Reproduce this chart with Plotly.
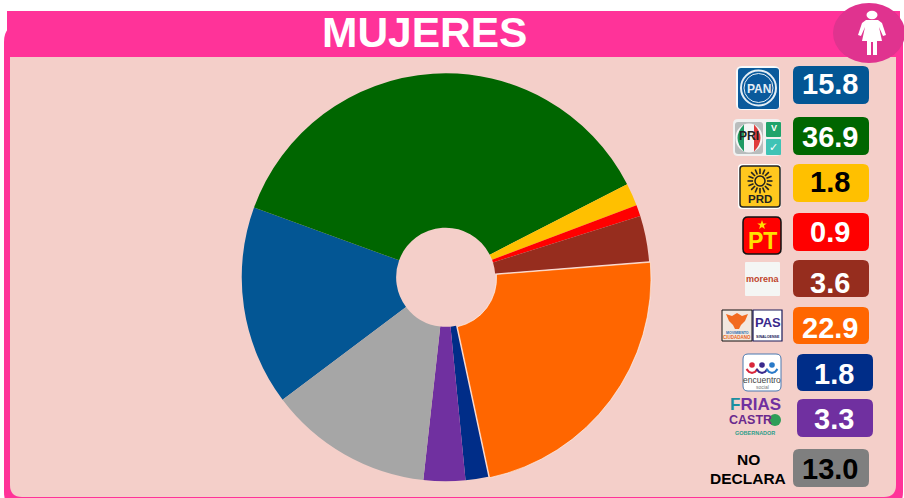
import math
import plotly.graph_objects as go

# ---- data ----
parties = ["PAN", "PRI-PVEM-NA", "PRD", "PT", "MORENA", "MC-PAS", "PES", "FRIAS CASTRO", "NO DECLARA"]
values = [15.8, 36.9, 1.8, 0.9, 3.6, 22.9, 1.8, 3.3, 13.0]
colors = ["#035694", "#006600", "#FFC000", "#FF0000", "#962D1E", "#FF6600", "#002D88", "#7030A0", "#A6A6A6"]
badge_colors = ["#035694", "#006600", "#FFC000", "#FF0000", "#962D1E", "#FF6600", "#002D88", "#7030A0", "#7F7F7F"]
badge_text = ["white", "white", "black", "white", "white", "white", "white", "white", "black"]
title_text = "MUJERES"
pulls = [0, 0, 0, 0, 0, 0.008, 0, 0, 0]

W, H = 904, 498
PINK = "#FF3399"
PANEL = "#F4CFC9"
FONT = "Liberation Sans"
shapes, notes = [], []


def px(x):
    return x / W


def py(y):
    return 1 - y / H


def rrect_path(x0, y0, x1, y1, r):
    X0, X1, Y0, Y1 = px(x0), px(x1), py(y0), py(y1)
    a, b = r / W, r / H
    return (f"M{X0 + a},{Y0} L{X1 - a},{Y0} Q{X1},{Y0} {X1},{Y0 - b} L{X1},{Y1 + b} Q{X1},{Y1} {X1 - a},{Y1} "
            f"L{X0 + a},{Y1} Q{X0},{Y1} {X0},{Y1 + b} L{X0},{Y0 - b} Q{X0},{Y0} {X0 + a},{Y0} Z")


def rrect(x0, y0, x1, y1, r, fill, line=None, lw=1, layer="above"):
    shapes.append(dict(type="path", xref="paper", yref="paper", path=rrect_path(x0, y0, x1, y1, r),
                       fillcolor=fill, line=dict(color=line or fill, width=lw if line else 0), layer=layer))


def circle(cx, cy, rx, ry=None, fill="white", line=None, lw=1, layer="above"):
    ry = ry if ry is not None else rx
    shapes.append(dict(type="circle", xref="paper", yref="paper", x0=px(cx - rx), x1=px(cx + rx),
                       y0=py(cy + ry), y1=py(cy - ry), fillcolor=fill,
                       line=dict(color=line or fill, width=lw if line else 0), layer=layer))


def poly(pts, fill=None, line=None, lw=1, close=True, layer="above"):
    d = "M" + " L".join(f"{px(x)},{py(y)}" for x, y in pts) + (" Z" if close else "")
    s = dict(type="path", xref="paper", yref="paper", path=d, layer=layer,
             line=dict(color=line or fill or "black", width=lw if line else 0))
    if fill:
        s["fillcolor"] = fill
    shapes.append(s)


def text(x, y, s, size, color="black", bold=True, family=FONT):
    notes.append(dict(xref="paper", yref="paper", x=px(x), y=py(y), text=f"<b>{s}</b>" if bold else s,
                      showarrow=False, xanchor="center", yanchor="middle",
                      font=dict(family=family, size=size, color=color)))


# ---- frame ----
rrect(4, 24, 903, 510, 18, PINK, layer="below")
shapes.append(dict(type="rect", xref="paper", yref="paper", x0=px(7), x1=px(900), y0=py(57), y1=py(11),
                   fillcolor=PINK, line=dict(width=0), layer="below"))
rrect(10, 57, 896, 497, 12, PANEL, layer="below")
shapes.append(dict(type="rect", xref="paper", yref="paper", x0=px(10), x1=px(896), y0=py(75), y1=py(57),
                   fillcolor=PANEL, line=dict(width=0), layer="below"))
text(424.5, 32, title_text, 42.5, "white")

# ---- woman icon ----
circle(869, 33, 36, 30, fill="#E0338F")
circle(872, 15, 5.5, 4.2, fill="white")
poly([(866, 20), (878, 20), (882, 23), (886, 35), (883, 36), (879, 27), (882, 41), (877, 41), (877, 55),
      (873, 55), (873, 42), (871, 42), (871, 55), (867, 55), (867, 41), (862, 41), (865, 27), (861, 36),
      (858, 35), (862, 23)], fill="white")

# ---- badges ----
boxes = [(793, 66, 869, 104), (793, 117, 869, 155), (793, 164, 869, 202), (793, 213, 869, 251),
         (793, 260, 869, 297), (793, 307, 869, 344), (797, 354, 873, 391), (797, 399, 873, 437),
         (793, 449, 869, 487)]
label_nudge = [-1, 1, -1, 0, 4, 2, 1, 1, 1]
for (x0, y0, x1, y1), v, c, t, n in zip(boxes, values, badge_colors, badge_text, label_nudge):
    rrect(x0, y0, x1, y1, 6, c)
    text((x0 + x1) / 2 - 1.5, (y0 + y1) / 2 + n, f"{v:.1f}", 29, t)

# ---- PAN ----
rrect(736, 66, 780, 110, 6, "#F6FAFC")
rrect(738, 68, 779, 109, 3, "#0A5A9C")
circle(758.5, 88, 17.5, fill="#0A5A9C", line="#E4EEF5", lw=2)
circle(758.5, 88, 14.5, fill="#0A5A9C", line="#E4EEF5", lw=1)
text(758.5, 88.5, "PAN", 12, "#E4EEF5")

# ---- PRI / Verde ----
rrect(733, 119, 781, 156, 5, "#F1F1F1")
rrect(735, 122, 763, 154, 3, "#B9BDBD")
circle(749, 138, 13.5, 14.5, fill="#F5F5F5")
shapes.append(dict(type="path", xref="paper", yref="paper", layer="above", fillcolor="#1E9A63", line=dict(width=0),
                   path=f"M{px(744)},{py(124.5)} Q{px(731)},{py(138)} {px(744)},{py(151.5)} Z"))
shapes.append(dict(type="path", xref="paper", yref="paper", layer="above", fillcolor="#E03C3C", line=dict(width=0),
                   path=f"M{px(754)},{py(124.5)} Q{px(767)},{py(138)} {px(754)},{py(151.5)} Z"))
text(749, 136, "PRI", 12, "#222222")
rrect(766, 122, 781, 137, 1, "#1FA36B")
rrect(766, 139, 781, 155, 1, "#3FC3B5")
text(773.5, 128, "V", 9, "white")
text(773.5, 147, "✓", 11, "white", bold=False, family="DejaVu Sans")

# ---- PRD ----
rrect(738, 164, 781, 209, 4, "#FFFFFF")
rrect(740, 166, 780, 207, 3, "#FFC81E", line="#222222", lw=1.5)
for k in range(16):
    a = k * math.pi / 8
    poly([(760 + 7 * math.cos(a), 181 + 7 * math.sin(a)), (760 + 12.5 * math.cos(a), 181 + 12.5 * math.sin(a))],
         line="#222222", lw=1.6, close=False)
circle(760, 181, 5, fill="#FFC81E", line="#222222", lw=1.5)
text(760, 199, "PRD", 11.5, "#222222")

# ---- PT ----
rrect(743, 217, 781, 254, 5, "#FF0000", line="#111111", lw=1.5)
star = []
for k in range(10):
    r = 5 if k % 2 == 0 else 2
    a = -math.pi / 2 + k * math.pi / 5
    star.append((762 + r * math.cos(a), 225 + r * math.sin(a)))
poly(star, fill="#FFE000")
text(762, 241, "PT", 23, "#FFE000")

# ---- morena ----
rrect(745, 262, 780, 296, 1, "#F4F6F4")
text(762.5, 279, "morena", 9, "#C0442B")

# ---- MC + PAS ----
rrect(722, 310, 752, 341, 0, "#F2E8DF", line="#111111", lw=1)
poly([(726, 314), (732, 316), (737, 313), (742, 316), (748, 314), (745, 321), (741, 325), (739, 329),
      (735, 329), (733, 325), (729, 321)], fill="#F26B1F")
text(737, 332.5, "MOVIMIENTO", 3.5, "#2A6FB0")
text(737, 337, "CIUDADANO", 4.5, "#E8641B")
rrect(753, 310, 782, 341, 0, "#FFFFFF", line="#1A1A5A", lw=1.2)
text(767.5, 322, "PAS", 13, "#3A2A8C")
text(767.5, 336.5, "SINALOENSE", 3.6, "#1A1A5A")

# ---- encuentro social ----
rrect(743, 354, 781, 391, 5, "#FFFFFF", line="#4A79B0", lw=1)
for cx, c in zip((752, 762, 772), ("#D9263A", "#3B2A8C", "#2A7AC8")):
    circle(cx, 365, 2.8, fill=c)
    poly([(cx - 5.5, 369), (cx - 3, 372), (cx, 373), (cx + 3, 372), (cx + 5.5, 369)], line=c, lw=2, close=False)
text(762, 379.5, "encuentro", 8.5, "#444444", bold=False)
text(762, 386.5, "social", 5, "#777777", bold=False)

# ---- Frias Castro ----
text(755, 404, "<span style='color:#1A8FA0'>F</span>RIAS", 17, "#7030A0")
text(750, 420, "CASTR", 12.5, "#6B2A8E")
circle(775, 420, 6, fill="#2E9E58")
text(755, 433, "GOBERNADOR", 5.5, "#2E9E8A")

# ---- no declara ----
text(748, 459, "NO", 15.5)
text(748, 478, "DECLARA", 15.5)

fig = go.Figure(go.Pie(
    labels=parties, values=values, sort=False, direction="clockwise", rotation=233.1, hole=0.243,
    pull=pulls,
    marker=dict(colors=colors, line=dict(color="#FFFFFF", width=[0, 0, 0, 0, 0, 0.6, 0, 0, 0])),
    textinfo="none", hoverinfo="label+value", showlegend=False,
    domain=dict(x=[240.1 / W, 651.3 / W], y=[1 - 482.9 / H, 1 - 71.7 / H]),
))
fig.update_layout(width=W, height=H, margin=dict(l=0, r=0, t=0, b=0), paper_bgcolor="white",
                  plot_bgcolor="white", shapes=shapes, annotations=notes, showlegend=False)
fig.write_html("out.html", config=dict(displayModeBar=False),
               post_script="document.body.style.margin='0';")
